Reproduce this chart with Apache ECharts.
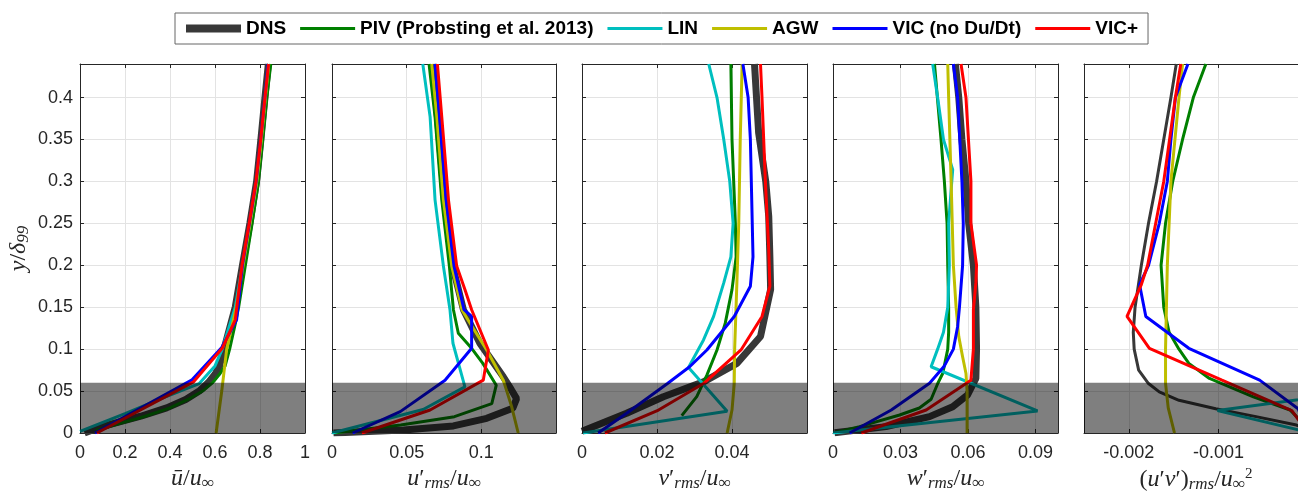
<!DOCTYPE html>
<html>
<head>
<meta charset="utf-8">
<script src="https://cdn.jsdelivr.net/npm/echarts@6.0.0/dist/echarts.min.js"></script>
<style>
  html, body { margin: 0; padding: 0; background: #fff; }
  #chart { width: 1298px; height: 491px; }
</style>
</head>
<body>
<div id="chart"></div>
<script>
// every profile is a list of [value, y/delta99] points

const NAMES = ['DNS', 'PIV (Probsting et al. 2013)', 'LIN', 'AGW', 'VIC (no Du/Dt)', 'VIC+'];
const COLORS = ['#383838', '#008000', '#00bfbf', '#bfbf00', '#0000ff', '#ff0000'];

const Y_TICKS = [0, 0.05, 0.1, 0.15, 0.2, 0.25, 0.3, 0.35, 0.4];
const SHADE = [0, 0.06];   // near-wall band

// mean velocity
const U_TICKS = [0, 0.2, 0.4, 0.6, 0.8, 1];
const U_DNS = [[0.02,0],[0.07,0.005],[0.13,0.01],[0.27,0.02],[0.385,0.03],[0.47,0.04],[0.53,0.05],[0.57,0.06],[0.6,0.07],[0.62,0.08],[0.64,0.1],[0.665,0.125],[0.69,0.15],[0.722,0.2],[0.755,0.25],[0.785,0.3],[0.804,0.35],[0.822,0.4],[0.837,0.44]];
const U_PIV = [[0.07,0.003],[0.16,0.01],[0.29,0.02],[0.4,0.03],[0.48,0.04],[0.545,0.05],[0.59,0.06],[0.62,0.07],[0.645,0.08],[0.665,0.1],[0.69,0.13],[0.705,0.15],[0.735,0.2],[0.765,0.25],[0.793,0.3],[0.812,0.35],[0.83,0.4],[0.848,0.44]];
const U_LIN = [[0,0.002],[0.2,0.023],[0.38,0.043],[0.53,0.059],[0.6,0.08],[0.632,0.1],[0.69,0.15],[0.722,0.2],[0.755,0.25],[0.785,0.3],[0.805,0.35],[0.823,0.4],[0.838,0.44]];
const U_AGW = [[0.605,0],[0.63,0.05],[0.652,0.1],[0.695,0.15],[0.725,0.2],[0.756,0.25],[0.786,0.3],[0.806,0.35],[0.824,0.4],[0.839,0.44]];
const U_VIC = [[0.067,0],[0.496,0.063],[0.63,0.102],[0.696,0.135],[0.722,0.2],[0.753,0.25],[0.783,0.3],[0.803,0.35],[0.822,0.4],[0.836,0.44]];
const U_VICP = [[0.075,0],[0.505,0.061],[0.632,0.101],[0.69,0.135],[0.72,0.2],[0.752,0.25],[0.782,0.3],[0.803,0.35],[0.822,0.4],[0.838,0.44]];

// u' rms
const UR_TICKS = [0, 0.05, 0.1];
const UR_DNS = [[0.001,0],[0.048,0.0036],[0.0813,0.0084],[0.1036,0.0175],[0.121,0.0294],[0.1236,0.041],[0.12,0.052],[0.1147,0.067],[0.099,0.107],[0.088,0.147],[0.0808,0.199],[0.0753,0.278],[0.0706,0.377],[0.0675,0.44]];
const UR_PIV = [[0.001,0],[0.046,0.0095],[0.082,0.0195],[0.107,0.035],[0.11,0.057],[0.101,0.083],[0.0935,0.101],[0.0846,0.119],[0.0813,0.147],[0.0786,0.199],[0.0735,0.278],[0.069,0.377],[0.065,0.44]];
const UR_LIN = [[0,0],[0.061,0.028],[0.089,0.055],[0.081,0.107],[0.079,0.147],[0.0746,0.199],[0.069,0.278],[0.0657,0.377],[0.0608,0.44]];
const UR_AGW = [[0.1247,0],[0.1203,0.0314],[0.1147,0.063],[0.1036,0.099],[0.091,0.135],[0.087,0.147],[0.0802,0.199],[0.0746,0.278],[0.0702,0.377],[0.0668,0.44]];
const UR_VIC = [[0.0138,0],[0.0457,0.0255],[0.0757,0.063],[0.0935,0.101],[0.0935,0.139],[0.0884,0.147],[0.0817,0.199],[0.0764,0.278],[0.072,0.377],[0.069,0.44]];
const UR_VICP = [[0.02,0],[0.0657,0.0274],[0.1013,0.063],[0.1047,0.099],[0.0935,0.147],[0.089,0.171],[0.0835,0.199],[0.078,0.278],[0.0735,0.377],[0.0706,0.44]];

// v' rms
const VR_TICKS = [0, 0.02, 0.04];
const VR_DNS = [[0,0.002],[0.0119,0.0235],[0.0217,0.0433],[0.0324,0.061],[0.0413,0.083],[0.0476,0.115],[0.0503,0.171],[0.0501,0.21],[0.0498,0.258],[0.049,0.3],[0.0471,0.358],[0.046,0.44]];
const VR_PIV = [[0.0266,0.0207],[0.0306,0.0434],[0.0333,0.069],[0.036,0.099],[0.0382,0.131],[0.04,0.171],[0.0411,0.21],[0.0409,0.25],[0.04,0.35],[0.0397,0.44]];
const VR_LIN = [[0.0003,0],[0.0387,0.026],[0.0284,0.078],[0.0324,0.111],[0.0351,0.139],[0.0378,0.179],[0.0397,0.21],[0.0403,0.25],[0.0394,0.3],[0.0378,0.35],[0.036,0.4],[0.0338,0.44]];
const VR_AGW = [[0.0387,0],[0.04,0.0274],[0.0406,0.059],[0.0407,0.099],[0.0413,0.179],[0.0418,0.25],[0.0422,0.35],[0.0427,0.44]];
const VR_VIC = [[0.0043,0],[0.0119,0.0235],[0.0228,0.059],[0.0287,0.079],[0.0333,0.099],[0.0406,0.139],[0.0449,0.175],[0.0456,0.21],[0.0454,0.25],[0.0449,0.35],[0.0443,0.4],[0.0429,0.44]];
const VR_VICP = [[0.0061,0],[0.0204,0.0274],[0.0324,0.059],[0.0424,0.099],[0.048,0.139],[0.0501,0.175],[0.0498,0.218],[0.0489,0.3],[0.048,0.4],[0.0476,0.44]];

// w' rms
const WR_TICKS = [0, 0.03, 0.06, 0.09];
const WR_DNS = [[0.0007,0.0004],[0.0236,0.0076],[0.0429,0.0195],[0.0532,0.0314],[0.0598,0.0453],[0.0635,0.065],[0.0638,0.1],[0.0635,0.15],[0.0624,0.2],[0.0603,0.25],[0.0591,0.3],[0.0573,0.35],[0.0559,0.4],[0.0544,0.44]];
const WR_PIV = [[0.0007,0.0004],[0.0118,0.0076],[0.0296,0.0215],[0.0384,0.0298],[0.0436,0.0402],[0.0466,0.0593],[0.0488,0.0712],[0.051,0.1],[0.0514,0.12],[0.0514,0.15],[0.051,0.2],[0.0507,0.25],[0.0495,0.3],[0.048,0.35],[0.0451,0.44]];
const WR_LIN = [[0,0],[0.0909,0.0263],[0.0436,0.079],[0.0465,0.1],[0.0491,0.12],[0.051,0.15],[0.0517,0.2],[0.0514,0.25],[0.0525,0.29],[0.0532,0.314],[0.0491,0.35],[0.0465,0.4],[0.0443,0.44]];
const WR_AGW = [[0.0596,0],[0.0596,0.05],[0.0591,0.071],[0.0576,0.091],[0.0559,0.115],[0.0547,0.15],[0.0535,0.2],[0.0525,0.3],[0.0514,0.4],[0.051,0.44]];
const WR_VIC = [[0.0074,0],[0.0259,0.0274],[0.0429,0.0593],[0.0495,0.08],[0.0535,0.1],[0.0554,0.127],[0.0562,0.15],[0.0576,0.2],[0.0579,0.25],[0.0573,0.3],[0.0554,0.4],[0.0535,0.44]];
const WR_VICP = [[0.0126,0],[0.0414,0.0274],[0.0613,0.063],[0.0624,0.1],[0.0624,0.147],[0.0635,0.179],[0.0638,0.2],[0.0613,0.25],[0.0613,0.3],[0.0591,0.4],[0.0569,0.44]];

// u'v'
const UV_TICKS = [-0.002, -0.001, 0];
const UV_DNS = [[0,0.0036],[-0.00013,0.0095],[-0.00058,0.0195],[-0.00103,0.029],[-0.00144,0.039],[-0.00166,0.049],[-0.00178,0.059],[-0.00189,0.075],[-0.00194,0.1],[-0.00195,0.12],[-0.00193,0.15],[-0.00186,0.2],[-0.00178,0.25],[-0.00169,0.3],[-0.00161,0.35],[-0.00153,0.4],[-0.00147,0.44]];
const UV_PIV = [[-0.00009,0.0155],[-0.0002,0.0274],[-0.00061,0.043],[-0.0011,0.065],[-0.00133,0.083],[-0.00144,0.1],[-0.00155,0.12],[-0.00161,0.15],[-0.00164,0.2],[-0.00159,0.25],[-0.00151,0.3],[-0.0014,0.35],[-0.00128,0.4],[-0.00114,0.44]];
const UV_LIN = [[0,0.001],[-0.00101,0.0267],[0.0025,0.077]];
const UV_AGW = [[-0.00149,0],[-0.00156,0.03],[-0.00159,0.059],[-0.00159,0.1],[-0.00157,0.2],[-0.00153,0.3],[-0.00144,0.4],[-0.0014,0.44]];
const UV_VIC = [[0,0],[-0.00011,0.029],[-0.00054,0.063],[-0.00133,0.101],[-0.00181,0.139],[-0.00188,0.177],[-0.00178,0.2],[-0.00166,0.25],[-0.00157,0.3],[-0.00153,0.35],[-0.00148,0.4],[-0.00134,0.44]];
const UV_VICP = [[0,0],[-0.00018,0.0267],[-0.00096,0.063],[-0.00177,0.101],[-0.00202,0.139],[-0.00186,0.177],[-0.00179,0.2],[-0.00161,0.3],[-0.00148,0.4],[-0.00142,0.44]];


const INK = '#262626';
const TOP = 64, HEIGHT = 369, Y_MAX = 0.44;

const panels = [
  { left: 80,   width: 225, min: 0,       max: 1,    ticks: U_TICKS,  dnsW: 7,
    series: [U_DNS, U_PIV, U_LIN, U_AGW, U_VIC, U_VICP],
    title: '{i|ū}{n|/}{i|u}{sub|∞}' },
  { left: 332,  width: 224, min: 0,       max: 0.15, ticks: UR_TICKS, dnsW: 7,
    series: [UR_DNS, UR_PIV, UR_LIN, UR_AGW, UR_VIC, UR_VICP],
    title: '{i|u}{n|′}{sub|rms}{n|/}{i|u}{sub|∞}' },
  { left: 582,  width: 225, min: 0,       max: 0.06, ticks: VR_TICKS, dnsW: 7,
    series: [VR_DNS, VR_PIV, VR_LIN, VR_AGW, VR_VIC, VR_VICP],
    title: '{i|v}{n|′}{sub|rms}{n|/}{i|u}{sub|∞}' },
  { left: 833,  width: 225, min: 0,       max: 0.1,  ticks: WR_TICKS, dnsW: 7,
    series: [WR_DNS, WR_PIV, WR_LIN, WR_AGW, WR_VIC, WR_VICP],
    title: '{i|w}{n|′}{sub|rms}{n|/}{i|u}{sub|∞}' },
  { left: 1084, width: 224, min: -0.0025, max: 0,    ticks: UV_TICKS, dnsW: 3,
    series: [UV_DNS, UV_PIV, UV_LIN, UV_AGW, UV_VIC, UV_VICP],
    title: '{n|(}{i|u}{n|′}{i|v}{n|′}{n|)}{sub|rms}{n|/}{i|u}{sub|∞}{sup|2}' }
];

const mathRich = {
  i:   { fontFamily: 'Liberation Serif', fontStyle: 'italic', fontSize: 24, lineHeight: 26, color: INK },
  n:   { fontFamily: 'Liberation Serif', fontSize: 24, lineHeight: 26, color: INK },
  sub: { fontFamily: 'Liberation Serif', fontStyle: 'italic', fontSize: 17, lineHeight: 14, verticalAlign: 'bottom', color: INK },
  sup: { fontFamily: 'Liberation Serif', fontSize: 15, lineHeight: 12, verticalAlign: 'top', color: INK }
};

const tickLabel = { fontFamily: 'Liberation Sans', fontSize: 18, color: INK };

const grid = [], xAxis = [], yAxis = [], series = [];

panels.forEach(function (p, k) {
  grid.push({ left: p.left, top: TOP, width: p.width, height: HEIGHT, outerBoundsMode: 'none' });

  // bottom axis with labels, top mirror for the box
  xAxis.push({
    gridIndex: k, type: 'value', position: 'bottom', min: p.min, max: p.max,
    axisLine: { show: true, onZero: false, lineStyle: { color: INK } },
    axisTick: { show: true, inside: true, length: 4, customValues: p.ticks, lineStyle: { color: INK } },
    axisLabel: Object.assign({ margin: 11, customValues: p.ticks }, tickLabel),
    splitLine: { show: true, lineStyle: { color: '#e3e3e3' } },
    name: p.title, nameLocation: 'middle', nameGap: 31,
    nameTextStyle: { rich: mathRich }
  });
  xAxis.push({
    gridIndex: k, type: 'value', position: 'top', min: p.min, max: p.max,
    axisLine: { show: true, onZero: false, lineStyle: { color: INK } },
    axisTick: { show: true, inside: true, length: 4, customValues: p.ticks, lineStyle: { color: INK } },
    axisLabel: { show: false }, splitLine: { show: false }
  });

  yAxis.push({
    gridIndex: k, type: 'value', position: 'left', min: 0, max: Y_MAX,
    axisLine: { show: true, onZero: false, lineStyle: { color: INK } },
    axisTick: { show: true, inside: true, length: 4, customValues: Y_TICKS, lineStyle: { color: INK } },
    axisLabel: Object.assign({ show: k === 0, margin: 7, customValues: Y_TICKS }, tickLabel),
    splitLine: { show: true, lineStyle: { color: '#e3e3e3' } },
    name: k === 0 ? '{i|y}{n|/}{i|δ}{sub|99}' : '',
    nameLocation: 'middle', nameGap: 48, nameRotate: 90,
    nameTextStyle: { rich: mathRich }
  });
  yAxis.push({
    gridIndex: k, type: 'value', position: 'right', min: 0, max: Y_MAX,
    axisLine: { show: true, onZero: false, lineStyle: { color: INK } },
    axisTick: { show: true, inside: true, length: 4, customValues: Y_TICKS, lineStyle: { color: INK } },
    axisLabel: { show: false }, splitLine: { show: false }
  });

  p.series.forEach(function (pts, j) {
    series.push({
      type: 'line', name: NAMES[j], data: pts,
      xAxisIndex: 2 * k, yAxisIndex: 2 * k,
      symbol: 'none', clip: true, z: 2 + j,
      lineStyle: { color: COLORS[j], width: j === 0 ? p.dnsW : 3 },
      itemStyle: { color: COLORS[j] }
    });
  });

  // translucent band over the near-wall region
  series.push({
    type: 'line', name: 'shade', silent: true,
    xAxisIndex: 2 * k, yAxisIndex: 2 * k,
    data: [[p.min, SHADE[1]], [p.max, SHADE[1]]],
    symbol: 'none', z: 20,
    lineStyle: { width: 0 },
    areaStyle: { color: 'rgba(0,0,0,0.5)', opacity: 1, origin: 'start' }
  });
});

const legendItems = NAMES.map(function (n, j) {
  return {
    name: n,
    icon: j === 0 ? 'path://M0,0H55V8H0Z' : 'path://M0,0H55V3H0Z',
    itemStyle: { color: COLORS[j] }
  };
});

const chart = echarts.init(document.getElementById('chart'), null, { renderer: 'canvas' });
chart.setOption({
  animation: false,
  backgroundColor: '#fff',
  legend: {
    data: legendItems,
    left: 175, top: 13,
    padding: [6, 10, 6, 11],
    itemGap: 14, itemWidth: 55, itemHeight: 12,
    borderColor: '#666', borderWidth: 1,
    textStyle: { fontFamily: 'Liberation Sans', fontWeight: 'bold', fontSize: 19, color: '#000' }
  },
  grid: grid,
  xAxis: xAxis,
  yAxis: yAxis,
  series: series
});
</script>
</body>
</html>
